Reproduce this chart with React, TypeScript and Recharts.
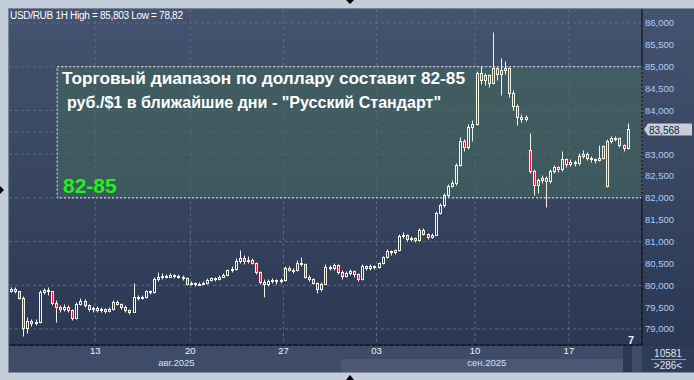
import { BarChart, Bar, XAxis, YAxis, CartesianGrid, ReferenceArea, ReferenceLine } from 'recharts';

// hourly candles
const opens = [
  79.88, 79.92, 79.86, 79.72, 79.02, 79.18, 79.14, 79.16, 79.84, 79.90,
  79.86, 79.60, 79.50, 79.46, 79.50, 79.44, 79.26, 79.58, 79.64, 79.56,
  79.46, 79.48, 79.44, 79.46, 79.42, 79.46, 79.62, 79.58, 79.50, 79.44,
  79.40, 79.74, 79.72, 79.74, 79.86, 79.84, 80.14, 80.18, 80.22, 80.20,
  80.24, 80.22, 80.20, 80.16, 80.04, 80.06, 80.02, 80.04, 80.06, 80.12,
  80.16, 80.14, 80.20, 80.24, 80.34, 80.38, 80.56, 80.62, 80.56, 80.58,
  80.52, 80.30, 80.08, 80.02, 80.10, 80.12, 80.10, 80.12, 80.40, 80.36,
  80.34, 80.52, 80.48, 80.20, 80.14, 80.06, 79.92, 80.04, 80.42, 80.40,
  80.46, 80.30, 80.22, 80.28, 80.32, 80.26, 80.14, 80.44, 80.40, 80.44,
  80.42, 80.50, 80.64, 80.78, 80.76, 80.80, 81.12, 81.16, 81.06, 81.08,
  81.04, 81.26, 81.18, 81.10, 81.16, 81.66, 81.84, 82.06, 82.28, 82.34,
  82.76, 83.30, 83.16, 83.62, 83.70, 84.86, 84.70, 84.80, 84.62, 84.96,
  84.84, 84.92, 84.98, 84.40, 84.10, 83.86, 83.80, 83.10, 82.62, 82.30,
  82.40, 82.46, 82.38, 82.62, 82.70, 82.66, 82.88, 82.78, 82.82, 82.80,
  82.96, 83.00, 82.92, 82.88, 82.86, 82.92, 82.26, 83.30, 83.38, 83.36,
  83.20, 83.14,
];
const highs = [
  79.96, 79.96, 79.88, 79.76, 79.28, 79.24, 79.22, 79.90, 79.94, 79.96,
  79.88, 79.66, 79.56, 79.58, 79.54, 79.46, 79.62, 79.70, 79.68, 79.58,
  79.52, 79.52, 79.50, 79.48, 79.50, 79.66, 79.66, 79.60, 79.54, 79.46,
  80.05, 79.78, 79.78, 79.90, 79.90, 80.20, 80.30, 80.28, 80.26, 80.28,
  80.26, 80.26, 80.24, 80.18, 80.10, 80.08, 80.08, 80.10, 80.16, 80.20,
  80.18, 80.24, 80.28, 80.38, 80.44, 80.62, 80.80, 80.70, 80.66, 80.62,
  80.54, 80.32, 80.14, 80.14, 80.16, 80.14, 80.16, 80.44, 80.44, 80.40,
  80.58, 80.65, 80.50, 80.24, 80.16, 80.08, 80.08, 80.48, 80.46, 80.50,
  80.48, 80.34, 80.32, 80.38, 80.36, 80.28, 80.48, 80.46, 80.48, 80.46,
  80.54, 80.68, 80.82, 80.80, 80.84, 81.18, 81.22, 81.18, 81.12, 81.10,
  81.32, 81.30, 81.20, 81.20, 81.70, 81.88, 82.10, 82.32, 82.40, 82.80,
  83.40, 83.34, 83.68, 83.78, 84.90, 85.02, 84.86, 84.84, 85.80, 85.00,
  85.20, 85.12, 85.00, 84.46, 84.14, 83.92, 83.90, 83.48, 82.66, 82.46,
  82.52, 82.50, 82.66, 82.76, 82.74, 83.08, 82.92, 82.88, 82.86, 83.02,
  83.10, 83.04, 82.96, 82.92, 83.20, 83.22, 83.34, 83.42, 83.42, 83.40,
  83.24, 83.72,
];
const lows = [
  79.84, 79.82, 79.68, 78.84, 78.90, 79.08, 79.10, 79.14, 79.80, 79.78,
  79.56, 79.16, 79.40, 79.42, 79.38, 79.20, 79.22, 79.54, 79.50, 79.42,
  79.40, 79.40, 79.38, 79.36, 79.40, 79.44, 79.54, 79.46, 79.40, 79.34,
  79.38, 79.66, 79.68, 79.72, 79.80, 79.82, 80.10, 80.14, 80.16, 80.18,
  80.16, 80.16, 80.12, 80.00, 80.00, 79.98, 80.00, 80.02, 80.04, 80.10,
  80.10, 80.12, 80.18, 80.22, 80.30, 80.36, 80.52, 80.48, 80.50, 80.48,
  80.26, 80.04, 79.73, 79.98, 80.06, 80.04, 80.06, 80.10, 80.32, 80.28,
  80.32, 80.44, 80.16, 80.10, 80.02, 79.82, 79.88, 80.02, 80.34, 80.36,
  80.26, 80.14, 80.18, 80.24, 80.20, 80.10, 80.12, 80.36, 80.36, 80.38,
  80.40, 80.48, 80.62, 80.70, 80.72, 80.78, 81.08, 81.02, 81.02, 80.98,
  81.02, 81.14, 81.06, 81.08, 81.14, 81.62, 81.80, 82.02, 82.24, 82.30,
  82.72, 83.08, 83.12, 83.30, 83.66, 84.60, 84.58, 84.54, 84.60, 84.70,
  84.36, 84.84, 84.30, 84.00, 83.66, 83.74, 83.76, 82.56, 82.07, 82.12,
  82.34, 81.80, 82.34, 82.56, 82.58, 82.62, 82.70, 82.72, 82.74, 82.76,
  82.92, 82.86, 82.82, 82.80, 82.84, 82.88, 82.24, 83.26, 83.30, 83.16,
  83.08, 83.12,
];
const closes = [
  79.92, 79.86, 79.72, 79.02, 79.18, 79.14, 79.16, 79.84, 79.90, 79.86,
  79.60, 79.50, 79.46, 79.50, 79.44, 79.26, 79.58, 79.64, 79.56, 79.46,
  79.48, 79.44, 79.46, 79.42, 79.46, 79.62, 79.58, 79.50, 79.44, 79.40,
  79.74, 79.72, 79.74, 79.86, 79.84, 80.14, 80.18, 80.22, 80.20, 80.24,
  80.22, 80.20, 80.16, 80.04, 80.06, 80.02, 80.04, 80.06, 80.12, 80.16,
  80.14, 80.20, 80.24, 80.34, 80.38, 80.56, 80.62, 80.56, 80.58, 80.52,
  80.30, 80.08, 80.02, 80.10, 80.12, 80.10, 80.12, 80.40, 80.36, 80.34,
  80.52, 80.48, 80.20, 80.14, 80.06, 79.92, 80.04, 80.42, 80.40, 80.46,
  80.30, 80.22, 80.28, 80.32, 80.26, 80.14, 80.44, 80.40, 80.44, 80.42,
  80.50, 80.64, 80.78, 80.76, 80.80, 81.12, 81.16, 81.06, 81.08, 81.04,
  81.26, 81.18, 81.10, 81.16, 81.66, 81.84, 82.06, 82.28, 82.34, 82.76,
  83.30, 83.16, 83.62, 83.70, 84.86, 84.70, 84.80, 84.62, 84.96, 84.84,
  84.92, 84.98, 84.40, 84.10, 83.86, 83.80, 83.84, 82.62, 82.30, 82.40,
  82.46, 82.38, 82.62, 82.70, 82.66, 82.88, 82.78, 82.82, 82.80, 82.96,
  83.00, 82.92, 82.88, 82.86, 82.92, 83.18, 83.30, 83.38, 83.36, 83.20,
  83.14, 83.568,
];

const dayTicks = [20.6, 43.9, 66.7, 89.5, 113.6, 136.6];
const dayLabels = ['13', '20', '27', '03', '10', '17'];
const monthTicks = [40.5, 116.5];
const monthLabels = ['авг.2025', 'сен.2025'];
const priceTicks = [79, 79.5, 80, 80.5, 81, 81.5, 82, 82.5, 83, 83.5, 84, 84.5, 85, 85.5, 86];

const rangeLow = 82;
const rangeHigh = 85;
const rangeStart = 11.3;
const lastPrice = 83.568;

const data = closes.map((c, i) => ({
  i,
  open: opens[i],
  high: highs[i],
  low: lows[i],
  close: c,
}));

const font = '"Liberation Sans", Arial, sans-serif';
const fmtPrice = (v: number) => v.toFixed(3).replace('.', ',');
// the price tag covers the tick label next to it
const fmtTick = (v: number) => (Math.abs(v - lastPrice) < 0.15 ? '' : fmtPrice(v));

const Candle = (props: any) => {
  const { x, y, width, height, payload } = props;
  if (x == null || !payload) return null;
  const { open, close, high, low } = payload;
  const top = Math.min(y, y + height);
  const h = Math.abs(height);
  const span = high - low || 1;
  const py = (v: number) => top + ((high - v) / span) * h;
  const cx = Math.floor(x + width / 2) + 0.5;
  const up = close >= open;
  const bTop = Math.round(py(Math.max(open, close))) + 0.5;
  const bBot = Math.max(bTop + 1, Math.round(py(Math.min(open, close))) + 0.5);
  const hi = Math.round(py(high)) + 0.5;
  const lo = Math.round(py(low)) + 0.5;
  const col = '#f4f4e2';
  return (
    <g>
      {hi < bTop && <line x1={cx} x2={cx} y1={hi} y2={bTop} stroke={col} />}
      {lo > bBot && <line x1={cx} x2={cx} y1={bBot} y2={lo} stroke={col} />}
      <rect x={cx - 1} y={bTop} width={2} height={bBot - bTop} fill={up ? 'none' : '#e8163c'} stroke={col} />
    </g>
  );
};

const PriceTag = (props: any) => {
  const vb = props.viewBox;
  if (!vb) return null;
  const x0 = vb.x + vb.width + 2;
  const yc = Math.round(vb.y) + 0.5;
  return (
    <g>
      <polygon
        points={`${x0},${yc} ${x0 + 4},${yc - 6} ${x0 + 48},${yc - 6} ${x0 + 48},${yc + 6} ${x0 + 4},${yc + 6}`}
        fill="#c9ced6"
      />
      <text x={x0 + 5} y={yc + 4} fontSize={10} fontFamily={font} fill="#10204a">
        {fmtPrice(lastPrice)}
      </text>
    </g>
  );
};

export default function App() {
  return (
    <div style={{ position: 'absolute', left: 0, top: 0, width: 694, height: 380, background: '#c4ceda', overflow: 'hidden' }}>
      <div style={{ position: 'absolute', left: 8, top: 8, width: 686, height: 365, background: '#7f8a9b' }} />
      <div style={{ position: 'absolute', left: 9, top: 9, width: 633, height: 337, background: 'linear-gradient(#44536f, #2b3853)' }} />
      <div style={{ position: 'absolute', left: 642, top: 9, width: 52, height: 337, background: 'linear-gradient(#44536f, #2b3853)' }} />
      <div style={{ position: 'absolute', left: 9, top: 346, width: 633, height: 26, background: '#3e4c69' }} />
      <div style={{ position: 'absolute', left: 341, top: 359, width: 282, height: 13, background: '#4a5875' }} />
      <div style={{ position: 'absolute', left: 623, top: 346, width: 9, height: 26, background: '#2c3954' }} />
      <div style={{ position: 'absolute', left: 642, top: 346, width: 52, height: 26, background: '#2f3c57' }} />
      <BarChart
        width={694}
        height={380}
        data={data}
        margin={{ top: 9, right: 0, bottom: 9, left: 9 }}
        style={{ position: 'absolute', left: 0, top: 0 }}
      >
        <CartesianGrid stroke="#5c6a86" strokeDasharray="3 3" />
        <XAxis
          dataKey="i"
          type="number"
          domain={[-0.5, 154.5]}
          ticks={dayTicks}
          tickFormatter={(v: number) => dayLabels[dayTicks.indexOf(v)] ?? ''}
          height={13}
          axisLine={{ stroke: '#000' }}
          tickLine={false}
          tickSize={0}
          tickMargin={2}
          tick={{ fill: '#eef2f8', fontSize: 9.5, fontFamily: font }}
          allowDataOverflow
        />
        <XAxis
          xAxisId="m"
          dataKey="i"
          type="number"
          domain={[-0.5, 154.5]}
          ticks={monthTicks}
          tickFormatter={(v: number) => monthLabels[monthTicks.indexOf(v)] ?? ''}
          height={13}
          axisLine={false}
          tickLine={false}
          tickSize={0}
          tickMargin={1}
          tick={{ fill: '#d4e0f2', fontSize: 9.5, fontFamily: font }}
          allowDataOverflow
        />
        <YAxis
          orientation="right"
          width={52}
          domain={[78.634, 86.32]}
          ticks={priceTicks}
          tickFormatter={fmtTick}
          axisLine={{ stroke: '#000' }}
          tickLine={false}
          tickSize={0}
          tickMargin={3}
          tick={{ fill: '#a9cff7', fontSize: 9.5, fontFamily: font, textAnchor: 'start' }}
          allowDataOverflow
        />
        <ReferenceArea
          x1={rangeStart}
          x2={154.5}
          y1={rangeLow}
          y2={rangeHigh}
          fill="#42685e"
          fillOpacity={0.6}
          stroke="#f0f0f0"
          strokeDasharray="2 2"
        />
        <Bar
          dataKey={(d: any) => [d.low, d.high]}
          barSize={3}
          shape={Candle}
          isAnimationActive={false}
        />
        <ReferenceLine y={lastPrice} stroke="none" label={PriceTag} />
      </BarChart>
      <svg width={694} height={380} style={{ position: 'absolute', left: 0, top: 0, pointerEvents: 'none' }}>
        <text x={10} y={19} fontSize={10} letterSpacing={-0.3} fontFamily={font} fill="#ffffff">
          USD/RUB 1H High = 85,803 Low = 78,82
        </text>
        <text x={62} y={84} fontSize={17} fontWeight="bold" fontFamily={font} fill="#ffffff" textLength={403} lengthAdjust="spacingAndGlyphs">
          Торговый диапазон по доллару составит 82-85
        </text>
        <text x={67} y={108} fontSize={17} fontWeight="bold" fontFamily={font} fill="#ffffff" textLength={374} lengthAdjust="spacingAndGlyphs">
          {'руб./$1 в ближайшие дни - "Русский Стандарт"'}
        </text>
        <text x={63} y={193} fontSize={21} fontWeight="bold" fontFamily={font} fill="#1ff21f">
          82-85
        </text>
        <text x={628} y={344} fontSize={11} fontWeight="bold" fontFamily={font} fill="#e8eef8">
          7
        </text>
        <text x={668} y={357} fontSize={10} fontFamily={font} fill="#dfe6f2" textAnchor="middle">
          10581
        </text>
        <line x1={651} x2={686} y1={359.5} y2={359.5} stroke="#8c9ab0" />
        <text x={668} y={369} fontSize={10} fontFamily={font} fill="#dfe6f2" textAnchor="middle">
          {'>286<'}
        </text>
        <polygon points="346,0 354,0 350,4" fill="#000" />
        <polygon points="346,380 354,380 350,375" fill="#000" />
        <polygon points="0,186 0,194 4,190" fill="#000" />
      </svg>
    </div>
  );
}
